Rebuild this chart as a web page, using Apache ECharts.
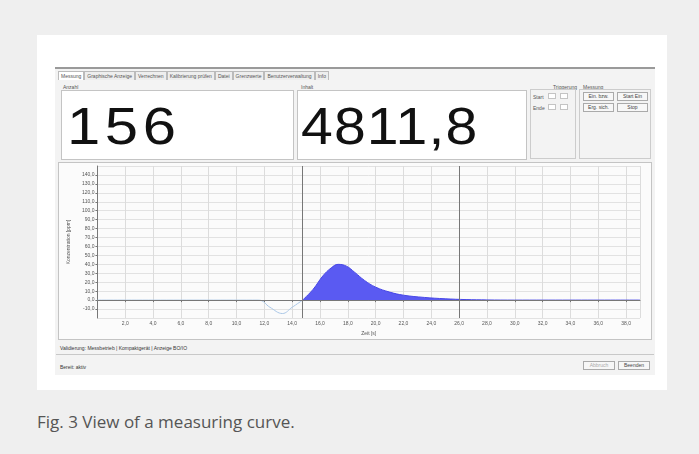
<!DOCTYPE html>
<html>
<head>
<meta charset="utf-8">
<script src="https://cdn.jsdelivr.net/npm/echarts@6/dist/echarts.min.js"></script>
<style>
  html, body { margin: 0; padding: 0; }
  body { width: 699px; height: 454px; background: #efefef; position: relative; overflow: hidden; font-family: "Liberation Sans", Arial, sans-serif; }
  .abs { position: absolute; }
  #card { left: 37px; top: 35px; width: 630px; height: 355px; background: #fff; }
  #shot { left: 55px; top: 67px; width: 600px; height: 308px; background: #f3f3f3; border-top: 2px solid #9a9a9a; box-sizing: border-box; }
  .tiny { font-size: 5px; color: #555; white-space: nowrap; }
  .tabs { left: 58px; top: 71px; height: 9px; display: flex; }
  .tabs span { border: 1px solid #bbb; border-bottom: none; padding: 1px 2px 0 2px; background: #eee; line-height: 7px; }
  .tabs span.on { background: #fff; }
  .box { background: #fff; border: 1px solid #c4c4c4; box-sizing: border-box; }
  .big { font-size: 52px; color: #111; line-height: 1; transform-origin: left top; white-space: nowrap; }
  .btn { border: 1px solid #aaa; background: #f7f7f7; font-size: 5px; color: #444; text-align: center; line-height: 7px; box-sizing: border-box; }
  .grp { border: 1px solid #ccc; box-sizing: border-box; }
  #caption { left: 37px; top: 410px; font-family: "Open Sans", "Noto Sans", sans-serif; font-size: 17px; color: #555; }
</style>
</head>
<body>
<div id="card" class="abs"></div>
<div id="shot" class="abs"></div>

<div class="abs tiny tabs">
  <span class="on">Messung</span><span>Graphische Anzeige</span><span>Verrechnen</span><span>Kalibrierung prüfen</span><span>Datei</span><span>Grenzwerte</span><span>Benutzerverwaltung</span><span>Info</span>
</div>

<div class="abs tiny" style="left:63px;top:84px;">Anzahl</div>
<div class="abs box" style="left:61px;top:90px;width:233px;height:70px;"></div>
<div class="abs big" style="left:67px;top:100px;transform:scaleX(1.15);letter-spacing:4px;">156</div>

<div class="abs tiny" style="left:301px;top:84px;">Inhalt</div>
<div class="abs box" style="left:297px;top:90px;width:230px;height:70px;"></div>
<div class="abs big" style="left:301px;top:100px;transform:scaleX(1.1);letter-spacing:1px;">4811,8</div>

<div class="abs tiny" style="left:553px;top:84px;">Triggerung</div>
<div class="abs grp" style="left:530px;top:89px;width:46px;height:70px;"></div>
<div class="abs tiny" style="left:533px;top:94px;">Start</div>
<div class="abs tiny" style="left:533px;top:105px;">Ende</div>
<div class="abs box" style="left:548px;top:93px;width:8px;height:6px;"></div>
<div class="abs box" style="left:560px;top:93px;width:8px;height:6px;"></div>
<div class="abs box" style="left:548px;top:104px;width:8px;height:6px;"></div>
<div class="abs box" style="left:560px;top:104px;width:8px;height:6px;"></div>

<div class="abs tiny" style="left:583px;top:84px;">Messung</div>
<div class="abs grp" style="left:579px;top:89px;width:72px;height:70px;"></div>
<div class="abs btn" style="left:583px;top:92px;width:31px;height:9px;">Ein. bzw.</div>
<div class="abs btn" style="left:617px;top:92px;width:31px;height:9px;">Start Ein</div>
<div class="abs btn" style="left:583px;top:103px;width:31px;height:9px;">Erg. sich.</div>
<div class="abs btn" style="left:617px;top:103px;width:31px;height:9px;">Stop</div>

<div class="abs box" style="left:58px;top:162px;width:594px;height:178px;background:#fbfbfb;"></div>
<div id="chart" class="abs" style="left:58px;top:160px;width:594px;height:182px;"></div>

<div class="abs tiny" style="left:60px;top:345px;color:#333;">Validierung: Messbetrieb | Kompaktgerät | Anzeige BO/IO</div>
<div class="abs" style="left:56px;top:354px;width:598px;height:1px;background:#c8c8c8;"></div>
<div class="abs tiny" style="left:60px;top:364px;color:#333;">Bereit: aktiv</div>
<div class="abs btn" style="left:583px;top:361px;width:32px;height:9px;color:#aaa;">Abbruch</div>
<div class="abs btn" style="left:618px;top:361px;width:32px;height:9px;">Beenden</div>

<div id="caption" class="abs">Fig. 3 View of a measuring curve.</div>

<script>
// Zeit [s] und Konzentration
var dipTime = [0, 11.6, 12.4, 13.3, 14.0, 14.75]
var dipValue = [0, 0, -8, -15, -8, 0]
var peakTime = [14.75, 15.5, 16.2, 16.8, 17.3, 17.9, 18.5, 19.2, 20, 21, 22, 23.5, 25, 26.5, 28, 30, 34, 39]
var peakValue = [0, 12, 27, 36, 40, 38, 31, 22, 14.5, 9, 5.5, 3, 1.5, 0.6, 0.2, 0, 0, 0]
var cursorTimes = [14.75, 26]

function pairs(xs, ys) {
  return xs.map(function (x, i) { return [x, ys[i]] })
}
function comma(v) {
  return v.toFixed(1).replace('.', ',')
}

var chart = echarts.init(document.getElementById('chart'))
chart.setOption({
  animation: false,
  grid: { left: 35, top: 6, width: 547, height: 152 },
  xAxis: {
    type: 'value',
    min: 0,
    max: 39,
    interval: 2,
    name: 'Zeit [s]',
    nameLocation: 'middle',
    nameGap: 12,
    nameTextStyle: { fontSize: 5, color: '#555' },
    axisLine: { lineStyle: { color: '#777' } },
    axisTick: { length: 2, lineStyle: { color: '#777' } },
    axisLabel: { fontSize: 5, color: '#555', margin: 3, showMinLabel: false, showMaxLabel: false, formatter: comma },
    splitLine: { lineStyle: { color: '#dcdcdc', width: 1 } }
  },
  yAxis: {
    type: 'value',
    min: -20,
    max: 150,
    interval: 10,
    name: 'Konzentration [ppm]',
    nameLocation: 'middle',
    nameGap: 22,
    nameTextStyle: { fontSize: 5, color: '#555' },
    axisLine: { show: true, lineStyle: { color: '#777' } },
    axisTick: { show: true, length: 2, lineStyle: { color: '#777' } },
    axisLabel: { fontSize: 5, color: '#555', margin: 3, showMinLabel: false, showMaxLabel: false, formatter: comma },
    splitLine: { lineStyle: { color: '#e2e2e2', width: 1 } }
  },
  series: [
    {
      type: 'line',
      data: pairs(dipTime, dipValue),
      smooth: 0.4,
      symbol: 'none',
      lineStyle: { color: '#a9c6e6', width: 1 },
      z: 3
    },
    {
      type: 'line',
      data: pairs(peakTime, peakValue),
      smooth: 0.4,
      symbol: 'none',
      lineStyle: { color: '#4646e6', width: 1 },
      areaStyle: { color: '#5a5af2', opacity: 1 },
      z: 3,
      markLine: {
        silent: true,
        symbol: 'none',
        label: { show: false },
        lineStyle: { color: '#777', type: 'solid', width: 1 },
        data: [{ yAxis: 0 }].concat(cursorTimes.map(function (t) { return { xAxis: t } }))
      }
    }
  ]
})
</script>
</body>
</html>
